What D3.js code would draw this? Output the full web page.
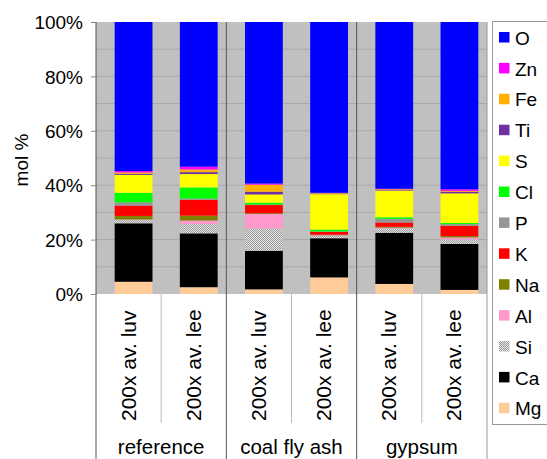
<!DOCTYPE html>
<html><head><meta charset="utf-8">
<script src="https://cdn.jsdelivr.net/npm/d3@7"></script>
<style>body{margin:0;background:#fff}svg{display:block}text{font-family:"Liberation Sans",Arial,sans-serif;fill:#000}</style>
</head><body><svg id="c" width="547" height="459"></svg>
<script>
const groups = ["reference","coal fly ash","gypsum"];
const categories = ["200x av. luv","200x av. lee","200x av. luv","200x av. lee","200x av. luv","200x av. lee"];
// stacking order bottom -> top
const elements = ["Mg","Ca","Si","Al","Na","K","P","Cl","S","Ti","Fe","Zn","O"];
const colors = ["#FFCC99","#000000","url(#si)","#FF99CC","#808000","#FF0000","#969696","#00FF00","#FFFF00","#7030A0","#FFB000","#FF00FF","#0000FF"];
const Mg = [4.5, 2.5, 1.7, 6.1, 3.7, 1.5];
const Ca = [21.5,19.8,14.2,14.4,18.8,16.9];
const Si = [1.2, 3.4, 8.2, 0.9, 1.6, 1.7];
const Al = [0.2, 1.3, 5.3, 0.2, 0.3, 0.7];
const Na = [1.3, 1.8, 0.3, 0.2, 0.3, 0.5];
const K  = [3.8, 5.8, 3.0, 1.0, 1.6, 3.8];
const P  = [1.2, 0.5, 0.2, 0.2, 1.3, 0.6];
const Cl = [3.5, 4.1, 0.7, 0.7, 0.6, 0.4];
const S  = [6.6, 4.9, 3.0,13.0, 9.8,10.9];
const Ti = [0.4, 0.7, 1.0, 0.2, 0.2, 0.6];
const Fe = [0.5, 1.0, 2.6, 0.2, 0.3, 0.3];
const Zn = [0.5, 1.0, 0.4, 0.1, 0.2, 0.6];
const O  = [54.8,53.2,59.4,62.8,61.3,61.5];
const series = {Mg,Ca,Si,Al,Na,K,P,Cl,S,Ti,Fe,Zn,O};
const yTicks = [0,20,40,60,80,100];

const svg = d3.select("#c");
const defs = svg.append("defs");
const pat = defs.append("pattern").attr("id","si").attr("width",2).attr("height",2).attr("patternUnits","userSpaceOnUse");
pat.append("rect").attr("width",2).attr("height",2).attr("fill","#e6e6e6");
pat.append("rect").attr("width",1).attr("height",1).attr("fill","#9a9a9a");
pat.append("rect").attr("x",1).attr("y",1).attr("width",1).attr("height",1).attr("fill","#9a9a9a");

const L=96, R=487, T=22, B=294, BOT=459;
const x = d3.scaleBand().domain(d3.range(categories.length)).range([L+5,R+5]).paddingInner(0.42).paddingOuter(0.21);
const xb = d3.scaleBand().domain(d3.range(categories.length)).range([L,R]);
const y = d3.scaleLinear().domain([0,100]).range([B,T]);

svg.append("rect").attr("x",L).attr("y",T).attr("width",R-L).attr("height",B-T).attr("fill","#C0C0C0");
svg.append("g").selectAll("line").data(d3.range(10,100,10)).join("line")
  .attr("x1",L).attr("x2",R).attr("y1",d=>y(d)).attr("y2",d=>y(d)).attr("stroke","#a8a8a8").attr("stroke-width",1);

const table = categories.map((c,i)=>{const o={i}; elements.forEach(e=>o[e]=series[e][i]); return o;});
const stacked = d3.stack().keys(elements)(table);
svg.append("g").selectAll("g").data(stacked).join("g")
  .attr("fill",(d,k)=>colors[k])
  .selectAll("rect").data(d=>d).join("rect")
  .attr("x",d=>x(d.data.i)).attr("width",x.bandwidth())
  .attr("y",d=>y(d[1])).attr("height",d=>y(d[0])-y(d[1]));

// group separators
const gb = [0,2,4,6].map(k=> k<6 ? xb(k) : R);
svg.append("g").selectAll("line").data(gb).join("line")
  .attr("x1",d=>d).attr("x2",d=>d).attr("y1",T).attr("y2",BOT)
  .attr("stroke",(d,i)=> (i===0||i===3)?"#999":"#555").attr("stroke-width",1);
svg.append("line").attr("x1",L).attr("x2",L).attr("y1",T).attr("y2",BOT).attr("stroke","#888");
// minor category separators
svg.append("g").selectAll("line").data([1,3,5]).join("line")
  .attr("x1",d=>xb(d)).attr("x2",d=>xb(d)).attr("y1",B).attr("y2",423).attr("stroke","#bbb");

// y axis
const ya = svg.append("g").attr("transform",`translate(${L},0)`)
  .call(d3.axisLeft(y).tickValues(yTicks).tickFormat(d=>d+"%").tickSize(5).tickPadding(4));
ya.select(".domain").attr("stroke","#888");
ya.selectAll(".tick line").attr("stroke","#888");
ya.selectAll("text").attr("font-size",19).attr("font-family","Liberation Sans, Arial, sans-serif").attr("dy","0.35em").attr("x",-13);

svg.append("text").attr("transform","translate(28,160) rotate(-90)").attr("text-anchor","middle").attr("font-size",19).text("mol %");

// category labels
svg.append("g").selectAll("text").data(categories).join("text")
  .attr("transform",(d,i)=>`translate(${xb(i)+xb.bandwidth()/2+7},421) rotate(-90)`)
  .attr("text-anchor","start").attr("font-size",21).text(d=>d);
// group labels
svg.append("g").selectAll("text").data(groups).join("text")
  .attr("x",(d,i)=>xb(i*2+1)).attr("y",454).attr("text-anchor","middle").attr("font-size",20.5).text(d=>d);

// legend
const legendItems = elements.slice().reverse();
const legendColors = colors.slice().reverse();
svg.append("rect").attr("x",492.5).attr("y",21.5).attr("width",55).attr("height",403).attr("fill","#fff").attr("stroke","#999");
const lg = svg.append("g").selectAll("g").data(legendItems).join("g")
  .attr("transform",(d,i)=>`translate(499,${37+i*30.9})`);
lg.append("rect").attr("x",0).attr("y",-5).attr("width",10.5).attr("height",10.5).attr("fill",(d,i)=>legendColors[i]);
lg.append("text").attr("x",16).attr("y",1).attr("dy","0.35em").attr("font-size",19).text(d=>d);
</script></body></html>
